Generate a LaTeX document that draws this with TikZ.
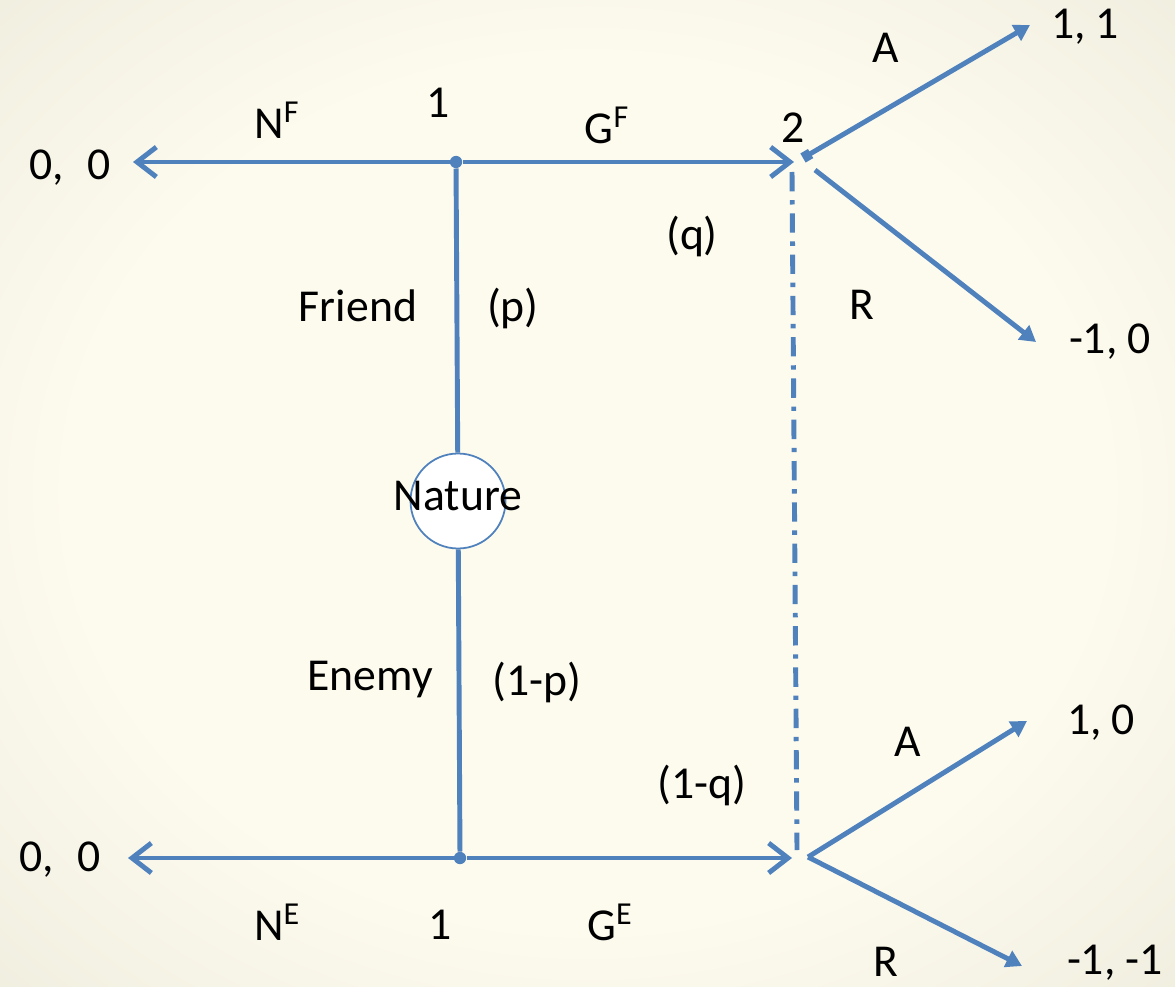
\documentclass[tikz,border=0pt]{standalone}
\usepackage{fontspec}
\setmainfont{Carlito}
\usetikzlibrary{arrows.meta}
\definecolor{edgeblue}{HTML}{4F81BD}
\definecolor{papercream}{HTML}{FDFBEE}
\definecolor{paperbeige}{HTML}{C9C6B2}
\pgfdeclareradialshading{paper}{\pgfpoint{0bp}{0bp}}{%
  color(0bp)=(papercream); color(22bp)=(papercream);
  color(42bp)=(papercream!65!paperbeige); color(70bp)=(paperbeige)}
\tikzset{
  move/.style={edgeblue, line width=2.8pt},
  lbl/.style={font=\fontsize{26}{30}\selectfont, inner sep=0pt},
  dot/.style={circle, fill=edgeblue, inner sep=0pt, minimum size=7pt},
}
\begin{document}
\begin{tikzpicture}[x=0.02cm, y=-0.02cm,
  >={Straight Barb[length=11pt,width=17pt]},
  tip/.style={-{Triangle[length=9pt,width=10pt]}}]
\useasboundingbox (0,0) rectangle (1175,986);
\shade[shading=paper] (0,0) rectangle (1175,986);

% decision nodes and nature
\node[dot] (top1) at (456,162) {};
\node[dot] (bot1) at (460,858) {};
\node[circle, draw=edgeblue, line width=1pt, fill=white, minimum size=1.9cm] (nat) at (458,501) {};
\node[lbl] at (458,496) {Nature};

% ends of the moves
\coordinate (topL) at (133,162);
\coordinate (topR) at (794,162);
\coordinate (botL) at (128,858);
\coordinate (botR) at (792,858);
\coordinate (top2) at (803,158);
\coordinate (top2r) at (815,170);
\coordinate (bot2) at (808,857);
\coordinate (topA) at (1030,25);
\coordinate (topRr) at (1036,342);
\coordinate (botA) at (1027,721);
\coordinate (botRr) at (1022,966);

\draw[move] (top1) -- (nat);
\draw[move] (nat) -- (bot1);
\draw[move,->] (top1) -- (topL);
\draw[move,->] (top1) -- (topR);
\draw[move,->] (bot1) -- (botL);
\draw[move,->] (bot1) -- (botR);
\draw[move,{Square[length=5pt,width=6pt]}-{Triangle[length=9pt,width=10pt]}] (top2) -- (topA);
\draw[move,tip] (top2r) -- (topRr);
\draw[move,tip] (bot2) -- (botA);
\draw[move,tip] (bot2) -- (botRr);

% information set
\draw[edgeblue, line width=2.8pt, dash pattern=on 11pt off 5pt on 2.5pt off 5pt]
  (792,172) -- (797,850);

% labels
\node[lbl] at (70,168) {0,\,\,\,0};
\node[lbl] at (60,860) {0,\,\,\,0};
\node[lbl] at (277,120) {N\textsuperscript{F}};
\node[lbl] at (438,103) {1};
\node[lbl] at (607,125) {G\textsuperscript{F}};
\node[lbl] at (793,128) {2};
\node[lbl] at (886,48) {A};
\node[lbl] at (1085,27) {1, 1};
\node[lbl] at (692,236) {(q)};
\node[lbl] at (862,305) {R};
\node[lbl] at (1110,342) {-1, 0};
\node[lbl] at (358,306) {Friend};
\node[lbl] at (513,308) {(p)};
\node[lbl] at (370,680) {Enemy};
\node[lbl] at (537,682) {(1-p)};
\node[lbl] at (908,742) {A};
\node[lbl] at (1101,723) {1, 0};
\node[lbl] at (702,785) {(1-q)};
\node[lbl] at (277,922) {N\textsuperscript{E}};
\node[lbl] at (440,925) {1};
\node[lbl] at (610,922) {G\textsuperscript{E}};
\node[lbl] at (886,962) {R};
\node[lbl] at (1115,963) {-1, -1};

\end{tikzpicture}
\end{document}
